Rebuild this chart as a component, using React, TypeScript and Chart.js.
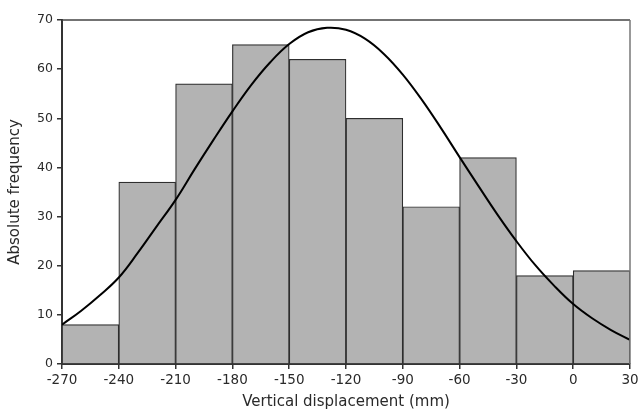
import React, { useEffect, useRef } from "react";
import { Chart, registerables } from "chart.js";

Chart.register(...registerables);

const binCenters = [-255, -225, -195, -165, -135, -105, -75, -45, -15, 15];
const binCounts = [8, 37, 57, 65, 62, 50, 32, 42, 18, 19];

const curveX = [-270, -260, -250, -240, -230, -220, -210, -200, -190, -180, -170, -160, -150, -140, -130, -120, -110, -100, -90, -80, -70, -60, -50, -40, -30, -20, -10, 0, 10, 20, 30];
const curveY = [8.0, 10.8, 14.0, 17.6, 22.6, 28.0, 33.4, 39.6, 45.6, 51.4, 56.8, 61.4, 65.1, 67.5, 68.4, 68.0, 66.2, 63.1, 58.9, 53.8, 48.1, 42.1, 36.2, 30.4, 25.0, 20.1, 15.9, 12.2, 9.3, 6.9, 4.9];

const xTickMin = -270;
const xTickMax = 30;
const xTickStep = 30;
const yTickMax = 70;
const yTickStep = 10;

const FONT = "'DejaVu Sans', Verdana, sans-serif";
const TXT = "#2a2a2a";

const framePlugin = {
  id: "frame",
  afterDatasetsDraw(chart: any) {
    const { ctx, chartArea } = chart;
    ctx.save();
    ctx.lineWidth = 1.5;
    ctx.strokeStyle = "#444";
    ctx.beginPath();
    ctx.moveTo(chartArea.left, chartArea.top);
    ctx.lineTo(chartArea.right, chartArea.top);
    ctx.stroke();
    ctx.strokeStyle = "#777";
    ctx.beginPath();
    ctx.moveTo(chartArea.right, chartArea.top);
    ctx.lineTo(chartArea.right, chartArea.bottom);
    ctx.stroke();
    ctx.restore();
  },
};

export default function App() {
  const ref = useRef<HTMLCanvasElement | null>(null);
  useEffect(() => {
    if (!ref.current) return;
    const chart = new Chart(ref.current, {
      type: "bar",
      data: {
        datasets: [
          {
            type: "line",
            data: curveX.map((x, i) => ({ x, y: curveY[i] })),
            borderColor: "#000",
            borderWidth: 2,
            pointRadius: 0,
            tension: 0.4,
            fill: false,
            order: 0,
          } as any,
          {
            type: "bar",
            data: binCenters.map((x, i) => ({ x, y: binCounts[i] })),
            backgroundColor: "#b3b3b3",
            borderColor: "#2e2e2e",
            borderWidth: 1.2,
            barPercentage: 1,
            categoryPercentage: 1,
            grouped: false,
            order: 1,
          } as any,
        ],
      },
      options: {
        animation: false,
        responsive: true,
        maintainAspectRatio: false,
        layout: { padding: { top: 20, right: 8, left: 0, bottom: 0 } },
        plugins: { legend: { display: false }, tooltip: { enabled: false } },
        scales: {
          x: {
            type: "linear",
            position: "bottom",
            offset: false,
            min: xTickMin,
            max: xTickMax,
            ticks: { stepSize: xTickStep, color: TXT, font: { family: FONT, size: 13.5 }, padding: 3, maxRotation: 0 },
            grid: { drawOnChartArea: false, drawTicks: true, tickLength: 5, color: "#333", lineWidth: 1.5, offset: false },
            border: { color: "#333", width: 2 },
            title: { display: true, text: "Vertical displacement (mm)", color: TXT, font: { family: FONT, size: 15 }, padding: { top: 0, bottom: 0 } },
            afterFit(scale: any) { scale.height = 47; scale.paddingRight = 8; },
          } as any,
          y: {
            min: 0,
            max: yTickMax,
            ticks: { stepSize: yTickStep, color: TXT, font: { family: FONT, size: 12.5 }, padding: 4 },
            grid: { drawOnChartArea: false, drawTicks: true, tickLength: 5, color: "#333", lineWidth: 1.5 },
            border: { color: "#333", width: 2 },
            title: { display: true, text: "Absolute frequency", color: TXT, font: { family: FONT, size: 15 }, padding: { top: 6, bottom: 4 } },
            afterFit(scale: any) { scale.width = 62; },
          } as any,
        },
      },
      plugins: [framePlugin],
    });
    return () => chart.destroy();
  }, []);
  return (
    <div style={{ position: "fixed", left: 0, top: 0, width: 638, height: 411, background: "#fff" }}>
      <canvas ref={ref} />
    </div>
  );
}
